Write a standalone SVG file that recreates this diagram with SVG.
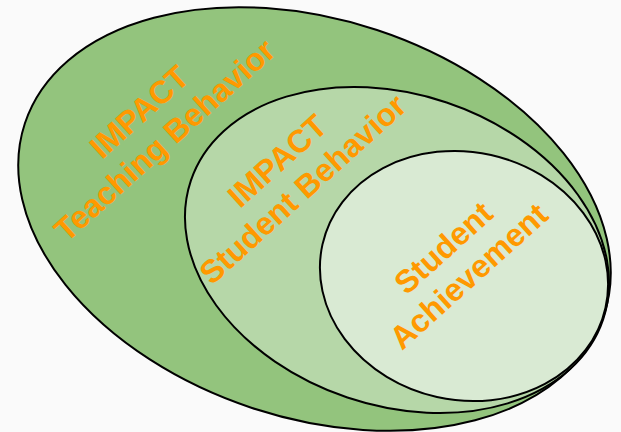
<svg xmlns="http://www.w3.org/2000/svg" width="621" height="432" viewBox="0 0 621 432">
<style>
.ell{stroke:#000;stroke-width:2}
.lbl{font-family:"Liberation Sans",Arial,sans-serif;font-weight:bold;font-size:32px;fill:#ff9900;text-anchor:middle}
</style>
<rect width="621" height="432" fill="#fafafa"/>
<g id="outer">
<ellipse class="ell" cx="314.5" cy="219" rx="305" ry="199" transform="rotate(18.3 314.5 219)" fill="#93c47d"/>
</g>
<g id="middle">
<ellipse class="ell" cx="397" cy="250" rx="217.5" ry="155.6" transform="rotate(18.6 397 250)" fill="#b6d7a8"/>
</g>
<g id="inner">
<ellipse class="ell" cx="464" cy="276" rx="145" ry="124" transform="rotate(12.6 464 276)" fill="#d9ead3"/>
</g>
<g id="label-teaching" transform="translate(152 126) rotate(-42)">
<text class="lbl" x="0" y="-8">IMPACT</text>
<text class="lbl" x="0" y="30">Teaching Behavior</text>
</g>
<g id="label-student" transform="translate(290 175) rotate(-42)">
<text class="lbl" x="0" y="-8">IMPACT</text>
<text class="lbl" x="0" y="30">Student Behavior</text>
</g>
<g id="label-achievement" transform="translate(456 262) rotate(-42)">
<text class="lbl" x="0" y="-8">Student</text>
<text class="lbl" x="0" y="30">Achievement</text>
</g>
<g id="connectors"/>
</svg>
